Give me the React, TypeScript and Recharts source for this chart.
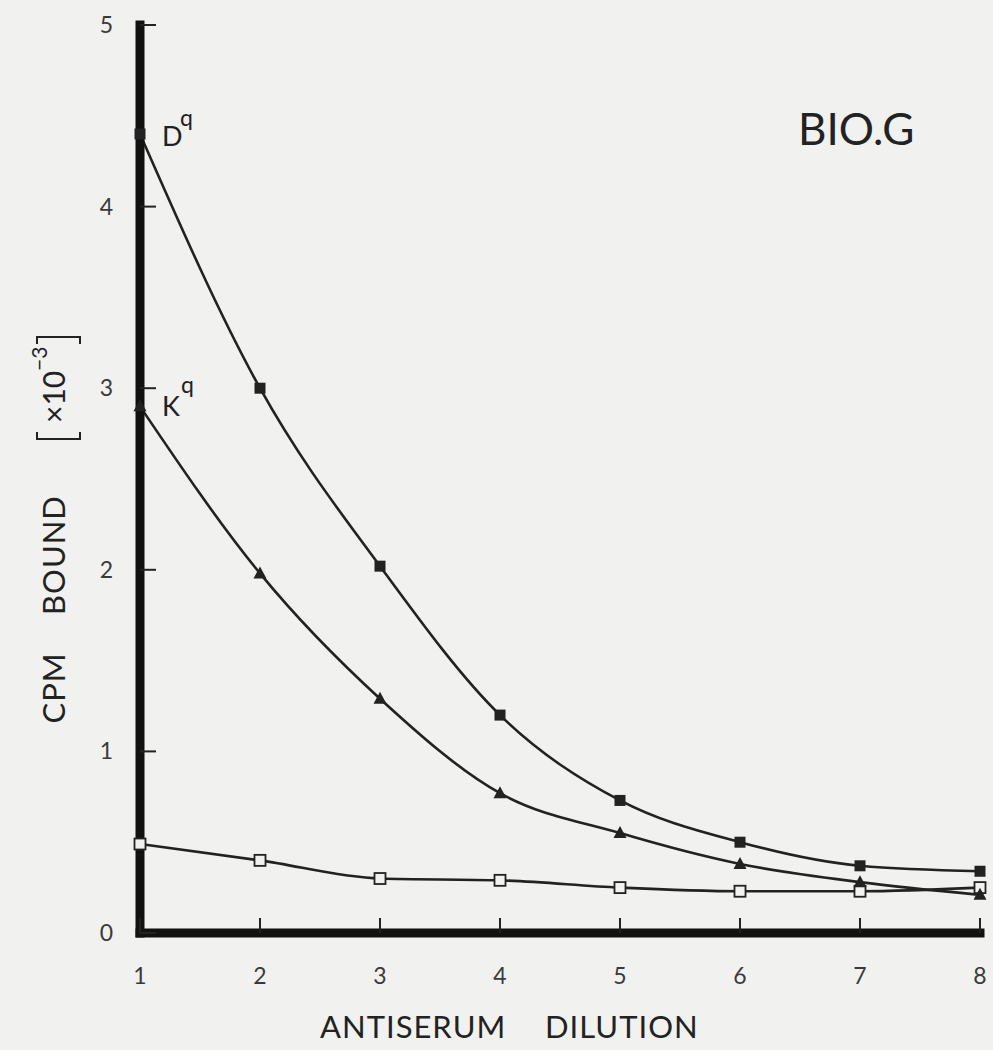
import React from 'react';
import { LineChart, Line, XAxis, YAxis } from 'recharts';

// antiserum dilution steps and counts bound (x10^-3 cpm)
const dilutions = [1, 2, 3, 4, 5, 6, 7, 8];
const dqBound = [4.4, 3.0, 2.02, 1.2, 0.73, 0.5, 0.37, 0.34];
const kqBound = [2.9, 1.98, 1.29, 0.77, 0.55, 0.38, 0.28, 0.21];
const controlBound = [0.49, 0.4, 0.3, 0.29, 0.25, 0.23, 0.23, 0.25];

const xTicks = [1, 2, 3, 4, 5, 6, 7, 8];
const yTicks = [0, 1, 2, 3, 4, 5];

const data = dilutions.map((d, i) => ({
  dilution: d,
  dq: dqBound[i],
  kq: kqBound[i],
  control: controlBound[i],
}));

const FONT = 'Lato, "Open Sans", sans-serif';
const INK = '#222';
const BG = '#f1f1ef';

type DotProps = { cx?: number; cy?: number; index?: number };
type TickProps = { x?: number; y?: number; payload?: { value: number } };

const seriesLabel = (cx: number, cy: number, main: string, dy: number, supDx: number, supDy: number) => (
  <g>
    <text x={cx + 22} y={cy + dy} fontSize={27} fill={INK} fontFamily={FONT}>
      {main}
    </text>
    <text x={cx + supDx} y={cy + supDy} fontSize={23} fill={INK} fontFamily={FONT}>
      q
    </text>
  </g>
);

const dqDot = (p: DotProps) => {
  const { cx = 0, cy = 0, index = 0 } = p;
  return (
    <g key={`dq-${index}`}>
      <rect x={cx - 5.5} y={cy - 5.5} width={11} height={11} fill={INK} />
      {index === 0 && seriesLabel(cx, cy, 'D', 12, 40, -8)}
    </g>
  );
};

const kqDot = (p: DotProps) => {
  const { cx = 0, cy = 0, index = 0 } = p;
  return (
    <g key={`kq-${index}`}>
      <polygon points={`${cx},${cy - 7} ${cx + 6.5},${cy + 5} ${cx - 6.5},${cy + 5}`} fill={INK} />
      {index === 0 && seriesLabel(cx, cy, 'K', 10, 41, -13)}
    </g>
  );
};

const controlDot = (p: DotProps) => {
  const { cx = 0, cy = 0, index = 0 } = p;
  return (
    <rect
      key={`ctl-${index}`}
      x={cx - 5.5}
      y={cy - 5.5}
      width={11}
      height={11}
      fill={BG}
      stroke={INK}
      strokeWidth={1.8}
    />
  );
};

// ticks point inward from the axis, labels sit outside
const Y_GAP = 27;
const YTick = ({ x = 0, y = 0, payload }: TickProps) => (
  <g>
    <line x1={x + Y_GAP} x2={x + Y_GAP + 16} y1={y} y2={y} stroke={INK} strokeWidth={2} />
    <text x={x} y={y + 8} textAnchor="end" fontSize={23} fill="#3a3a3a" fontFamily={FONT}>
      {payload?.value}
    </text>
  </g>
);

const XTick = ({ x = 0, y = 0, payload }: TickProps) => (
  <g>
    <line x1={x} x2={x} y1={y} y2={y - 15} stroke={INK} strokeWidth={2} />
    <text x={x} y={y + 51} textAnchor="middle" fontSize={23} fill="#3a3a3a" fontFamily={FONT}>
      {payload?.value}
    </text>
  </g>
);

export default function App() {
  return (
    <div style={{ position: 'absolute', left: 0, top: 0, width: 993, height: 1050, background: BG }}>
      <LineChart
        width={993}
        height={1050}
        data={data}
        margin={{ top: 25, right: 13, left: 80, bottom: 57 }}
      >
        <XAxis
          dataKey="dilution"
          type="number"
          domain={[1, 8]}
          ticks={xTicks}
          height={60}
          tickSize={0}
          tickMargin={0}
          tick={<XTick />}
          tickLine={false}
          axisLine={{ stroke: '#111', strokeWidth: 9, strokeLinecap: 'square' }}
        />
        <YAxis
          type="number"
          domain={[0, 5]}
          ticks={yTicks}
          width={60}
          tickSize={0}
          tickMargin={Y_GAP}
          tick={<YTick />}
          tickLine={false}
          axisLine={{ stroke: '#111', strokeWidth: 9, strokeLinecap: 'square' }}
        />
        <Line
          type="monotone"
          dataKey="control"
          stroke={INK}
          strokeWidth={2.6}
          dot={controlDot}
          isAnimationActive={false}
        />
        <Line
          type="monotone"
          dataKey="kq"
          stroke={INK}
          strokeWidth={2.6}
          dot={kqDot}
          isAnimationActive={false}
        />
        <Line
          type="monotone"
          dataKey="dq"
          stroke={INK}
          strokeWidth={2.6}
          dot={dqDot}
          isAnimationActive={false}
        />
      </LineChart>

      {/* axis titles and strain name */}
      <svg
        width={993}
        height={1050}
        style={{ position: 'absolute', left: 0, top: 0, pointerEvents: 'none' }}
      >
        <text x={798} y={145} fontSize={44} fill={INK} fontFamily={FONT}>
          BIO.G
        </text>
        <text x={320} y={1038} fontSize={31} fill={INK} fontFamily={FONT} letterSpacing={1}>
          ANTISERUM
        </text>
        <text x={545} y={1038} fontSize={31} fill={INK} fontFamily={FONT} letterSpacing={1}>
          DILUTION
        </text>
        <g transform="translate(65, 0) rotate(-90)">
          <text x={-688} y={0} textAnchor="middle" fontSize={31} fill={INK} fontFamily={FONT} letterSpacing={1}>
            CPM
          </text>
          <text x={-555} y={0} textAnchor="middle" fontSize={31} fill={INK} fontFamily={FONT} letterSpacing={1}>
            BOUND
          </text>
          <text x={-423} y={0} fontSize={30} fill={INK} fontFamily={FONT}>
            ×10
          </text>
          <text x={-371} y={-18} fontSize={21} fill={INK} fontFamily={FONT}>
            −3
          </text>
        </g>
        {/* square brackets around the scale factor */}
        <path d="M37 432 V439 H80 V432" fill="none" stroke={INK} strokeWidth={2} />
        <path d="M37 344 V337 H80 V344" fill="none" stroke={INK} strokeWidth={2} />
      </svg>
    </div>
  );
}
